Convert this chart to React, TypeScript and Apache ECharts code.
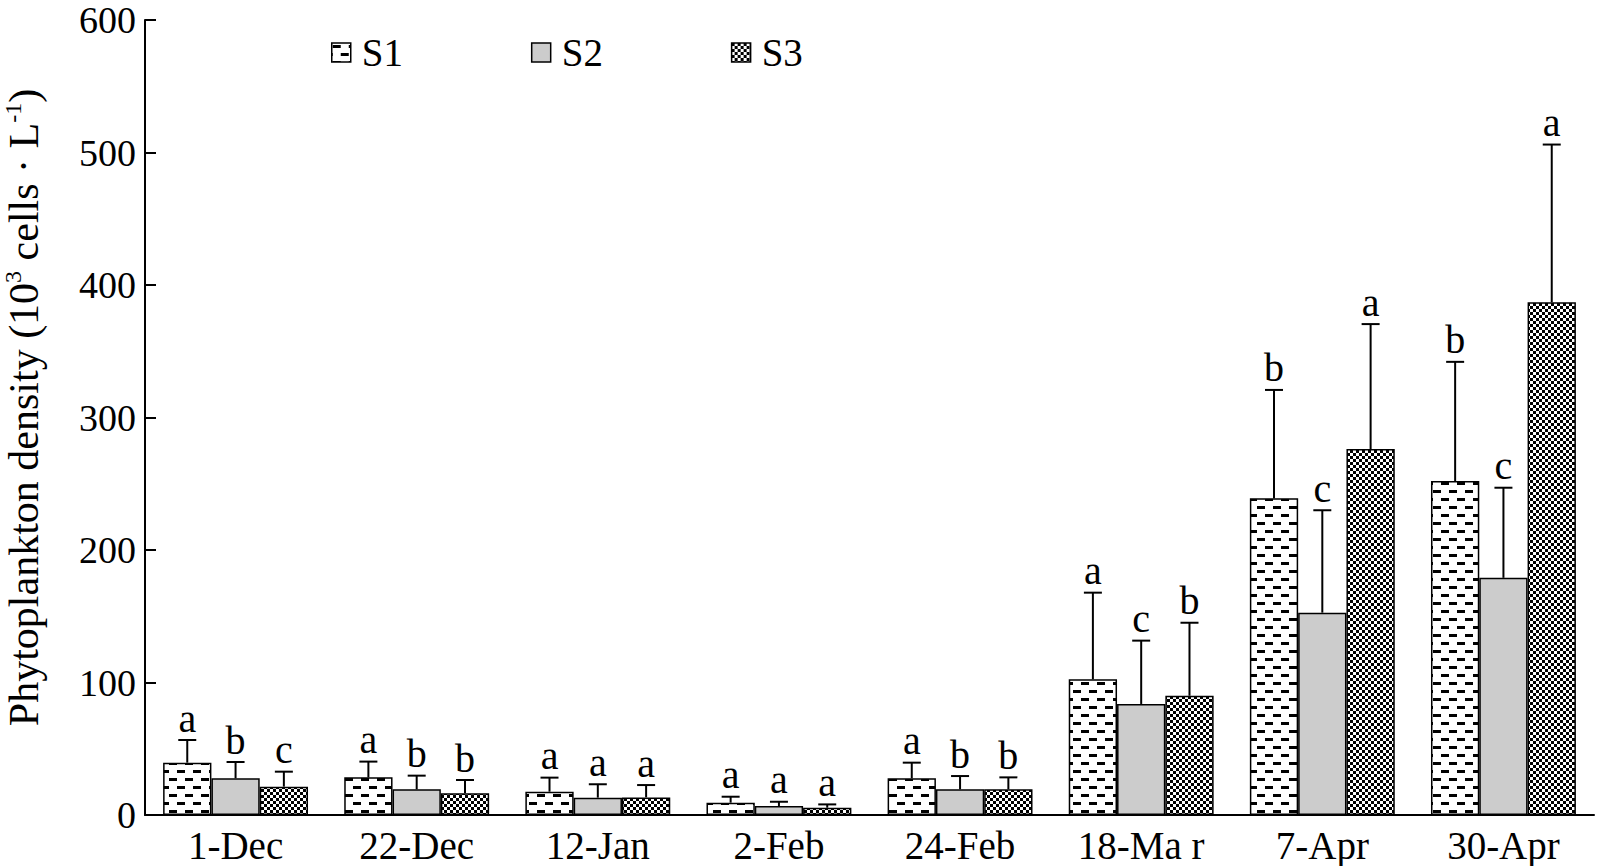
import React, { useEffect, useRef } from "react";
import * as echarts from "echarts";

const categories = ["1-Dec", "22-Dec", "12-Jan", "2-Feb", "24-Feb", "18-Ma r", "7-Apr", "30-Apr"];
const seriesNames = ["S1", "S2", "S3"];
const s1Mean = [39.5, 28.4, 17.6, 9.3, 27.7, 102.4, 239, 252];
const s1Sd = [17.1, 11.9, 10.6, 4.5, 11.8, 65.4, 81.8, 90];
const s2Mean = [27.7, 19.4, 13.1, 6.8, 19.4, 83.8, 152.7, 179];
const s2Sd = [12.3, 10.3, 10.1, 3.2, 10, 47.8, 77.3, 68];
const s3Mean = [21.4, 16.4, 13.3, 5.5, 19.4, 90, 276.2, 387];
const s3Sd = [11.3, 10, 9.3, 2.5, 9, 55.1, 94.3, 119];
const s1Letters = ["a", "a", "a", "a", "a", "a", "b", "b"];
const s2Letters = ["b", "b", "a", "a", "b", "c", "c", "c"];
const s3Letters = ["c", "b", "a", "a", "b", "b", "a", "a"];
const yTicks = { min: 0, max: 600, interval: 100 };

const FONT = "'Liberation Serif', 'Times New Roman', serif";

function dashPattern(): HTMLCanvasElement {
  const c = document.createElement("canvas");
  c.width = 16;
  c.height = 16;
  const g = c.getContext("2d")!;
  g.fillStyle = "#fff";
  g.fillRect(0, 0, 16, 16);
  g.fillStyle = "#000";
  g.fillRect(1, 2, 8, 3);
  g.fillRect(9, 10, 8, 3);
  g.fillRect(-7, 10, 8, 3);
  return c;
}

function checkerPattern(): HTMLCanvasElement {
  const c = document.createElement("canvas");
  c.width = 6;
  c.height = 6;
  const g = c.getContext("2d")!;
  g.fillStyle = "#fff";
  g.fillRect(0, 0, 6, 6);
  g.fillStyle = "#000";
  g.fillRect(0, 0, 3, 3);
  g.fillRect(3, 3, 3, 3);
  return c;
}

export default function App() {
  const ref = useRef<HTMLDivElement>(null);
  useEffect(() => {
    document.body.style.margin = "0";
    const chart = echarts.init(ref.current!, null, { renderer: "svg" });
    const means = [s1Mean, s2Mean, s3Mean];
    const sds = [s1Sd, s2Sd, s3Sd];
    const letters = [s1Letters, s2Letters, s3Letters];
    const fills: any[] = [
      { image: dashPattern(), repeat: "repeat", imageWidth: 16, imageHeight: 16 },
      "#cccccc",
      { image: checkerPattern(), repeat: "repeat", imageWidth: 6, imageHeight: 6 },
    ];
    const barSeries = seriesNames.map((name, k) => ({
      name,
      type: "bar",
      data: means[k],
      barGap: "0%",
      barCategoryGap: "20%",
      itemStyle: { color: fills[k], borderColor: "#000", borderWidth: 1.5 },
      z: 2,
    }));
    const errSeries = seriesNames.map((name, k) => ({
      name: name + "-err",
      type: "custom",
      z: 3,
      clip: false,
      data: means[k].map((m, i) => [i, m, m + sds[k][i]]),
      renderItem: (params: any, api: any) => {
        const idx = api.value(0);
        const band = api.size([1, 0])[0];
        const barW = (band * 0.8) / 3;
        const center = api.coord([idx, 0])[0];
        const cx = center + (k - 1) * barW;
        const yMean = api.coord([idx, api.value(1)])[1];
        const yTop = api.coord([idx, api.value(2)])[1];
        const capHalf = 9;
        return {
          type: "group",
          children: [
            { type: "line", shape: { x1: cx, y1: yMean, x2: cx, y2: yTop }, style: { stroke: "#000", lineWidth: 2 } },
            { type: "line", shape: { x1: cx - capHalf, y1: yTop, x2: cx + capHalf, y2: yTop }, style: { stroke: "#000", lineWidth: 2 } },
            {
              type: "text",
              x: cx,
              y: yTop - 2,
              style: {
                text: letters[k][params.dataIndex],
                fontSize: 40,
                fontFamily: FONT,
                fill: "#000",
                align: "center",
                verticalAlign: "bottom",
              },
            },
          ],
        };
      },
    }));
    chart.setOption({
      animation: false,
      backgroundColor: "#fff",
      grid: { left: 145, right: 4, top: 20, bottom: 51, containLabel: false, outerBoundsMode: "none" },
      legend: {
        data: seriesNames,
        left: 326,
        top: 28,
        itemWidth: 19,
        itemHeight: 19,
        itemGap: 128,
        icon: "rect",
        itemStyle: { borderColor: "#000", borderWidth: 1.5 },
        textStyle: { fontSize: 39, fontFamily: FONT, color: "#000", padding: [0, 0, 0, 6] },
      },
      xAxis: {
        type: "category",
        data: categories,
        axisLine: { lineStyle: { color: "#000", width: 2 } },
        axisTick: { inside: true, length: 10, lineStyle: { color: "#000", width: 2 } },
        axisLabel: { fontSize: 39, fontFamily: FONT, color: "#000", margin: 11 },
      },
      yAxis: {
        type: "value",
        min: yTicks.min,
        max: yTicks.max,
        interval: yTicks.interval,
        splitLine: { show: false },
        axisLine: { show: true, lineStyle: { color: "#000", width: 2 } },
        axisTick: { show: true, inside: true, length: 11, lineStyle: { color: "#000", width: 2 } },
        axisLabel: { fontSize: 38, fontFamily: FONT, color: "#000", margin: 9 },
        name: "{n|Phytoplankton density (10}{s|3}{n| cells · L}{s|-1}{n|)}",
        nameLocation: "middle",
        nameRotate: 90,
        nameGap: 100,
        nameTextStyle: {
          fontSize: 42,
          fontFamily: FONT,
          color: "#000",
          padding: [0, 0, 0, 20],
          rich: {
            n: { fontSize: 42, fontFamily: FONT, color: "#000", lineHeight: 46, verticalAlign: "bottom" },
            s: { fontSize: 24, fontFamily: FONT, color: "#000", lineHeight: 46, verticalAlign: "top", padding: [2, 0, 0, 0] },
          },
        },
      },
      series: [...barSeries, ...errSeries],
    });
    return () => chart.dispose();
  }, []);
  return <div ref={ref} style={{ position: "fixed", left: 0, top: 0, width: 1598, height: 866 }} />;
}
